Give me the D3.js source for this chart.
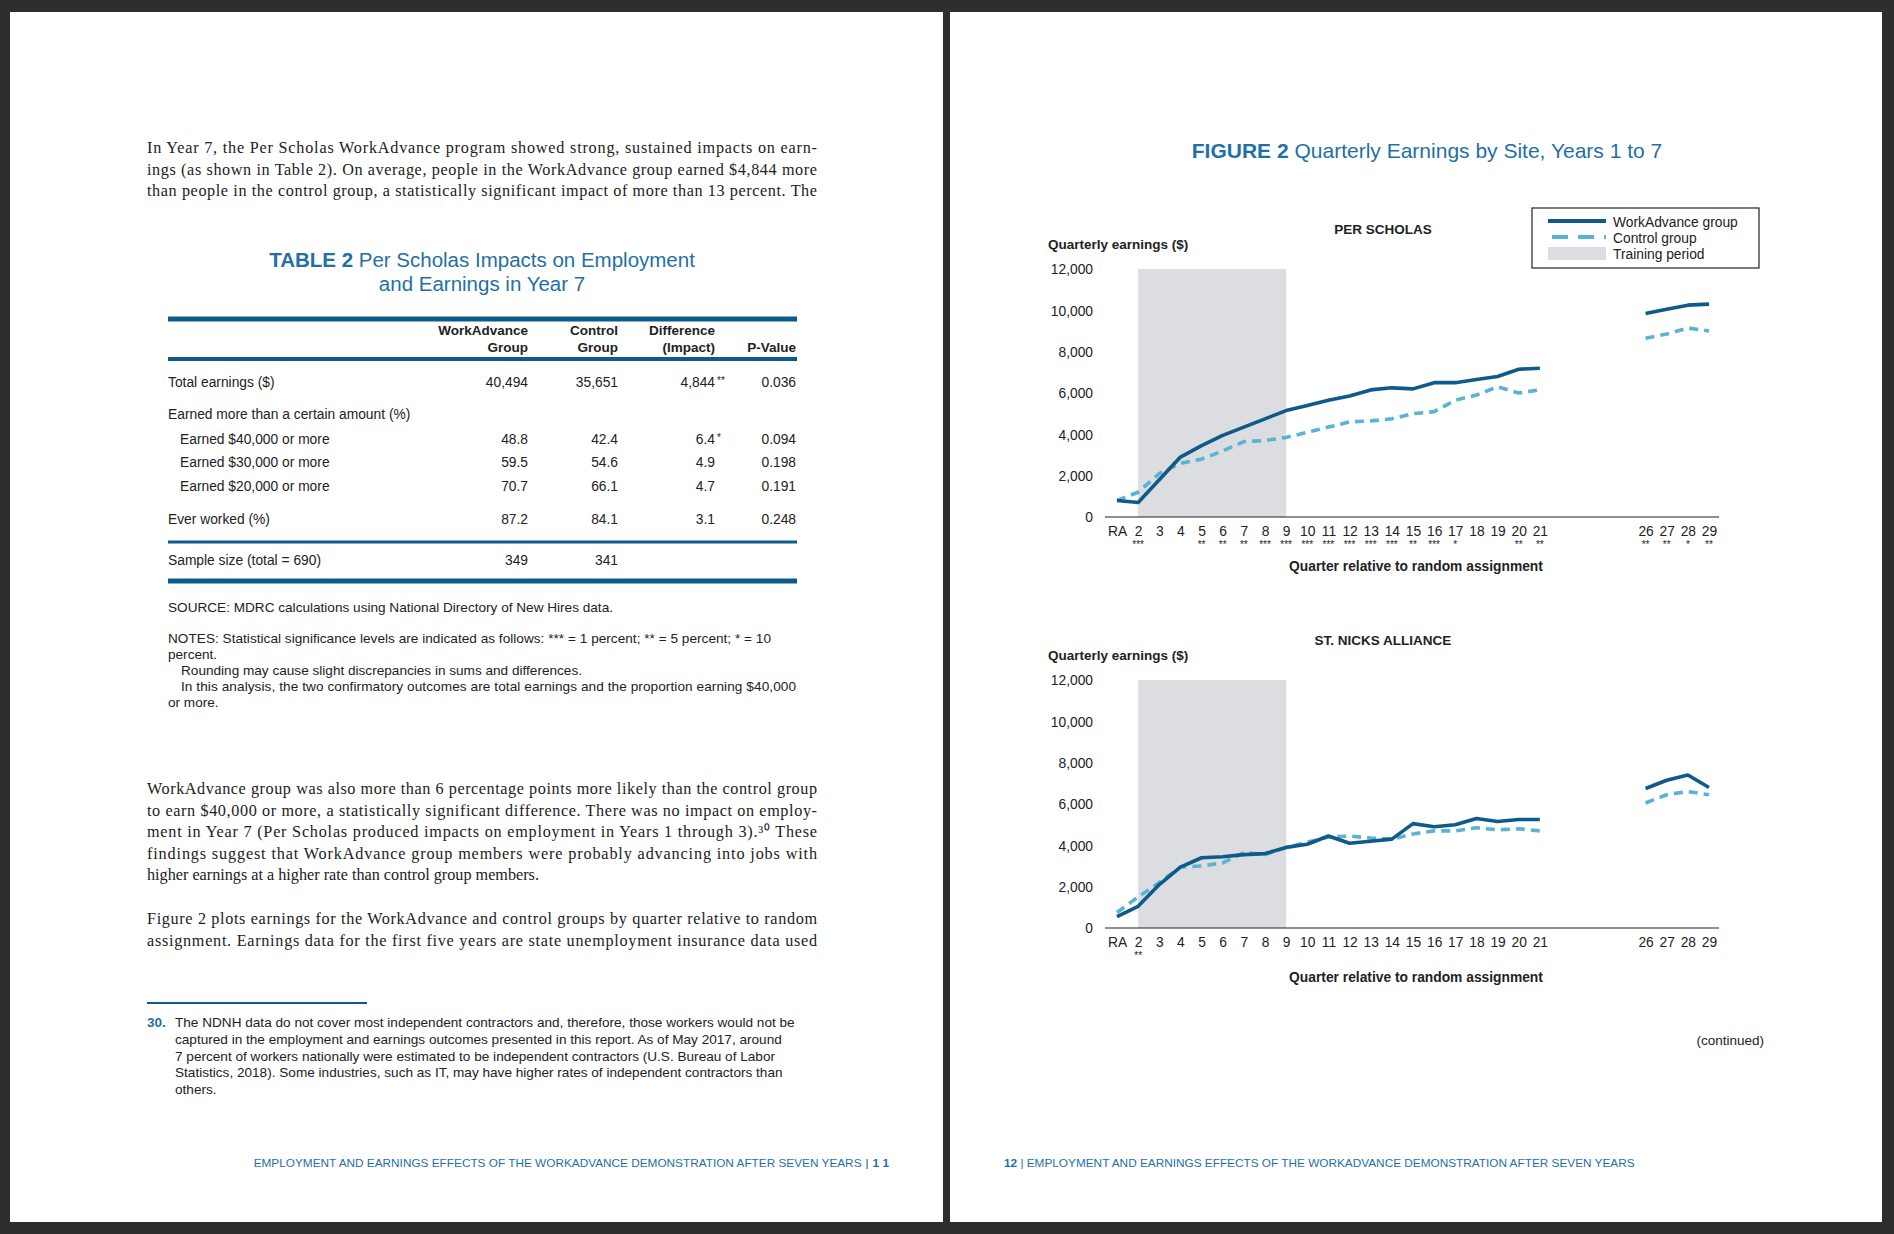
<!DOCTYPE html>
<html><head><meta charset="utf-8">
<script src="https://cdn.jsdelivr.net/npm/d3@7"></script>
<style>
body{margin:0;background:#2e2e2e;}
text{font-family:"Liberation Sans",Arial,sans-serif;}
.serif{font-family:"Liberation Serif","Times New Roman",serif;}
</style></head><body>
<svg id="page" width="1894" height="1234"></svg>
<script>
"use strict";

// ---- data ----
var quarters = [1,2,3,4,5,6,7,8,9,10,11,12,13,14,15,16,17,18,19,20,21,26,27,28,29];
var quarterLabels = ["RA","2","3","4","5","6","7","8","9","10","11","12","13","14","15","16","17","18","19","20","21","26","27","28","29"];
var perScholasWA = [800,700,1800,2900,3450,3950,4350,4750,5150,5400,5650,5850,6150,6250,6200,6500,6500,6650,6800,7150,7200,9850,10050,10250,10300];
var perScholasCtl = [800,1200,2100,2600,2800,3200,3650,3700,3850,4100,4350,4600,4650,4750,5000,5100,5650,5900,6300,6000,6150,8650,8850,9150,9000];
var perScholasStars = ["","***","","","**","**","**","***","***","***","***","***","***","***","**","***","*","","","**","**","**","**","*","**"];
var stNicksWA = [550,1050,2100,2950,3400,3450,3550,3600,3900,4050,4450,4100,4200,4300,5050,4900,5000,5300,5150,5250,5250,6750,7150,7400,6800];
var stNicksCtl = [750,1500,2200,2950,3000,3150,3650,3550,3900,4150,4400,4450,4350,4300,4550,4700,4700,4850,4750,4800,4700,6050,6450,6600,6450];
var stNicksStars = ["","**","","","","","","","","","","","","","","","","","","","","","","",""];
var yTicks = [0,2000,4000,6000,8000,10000,12000];
var trainingPeriod = [2,9];

var tableHeader = [["WorkAdvance","Group"],["Control","Group"],["Difference","(Impact)"],["","P-Value"]];
var tableRows = [
  ["Total earnings ($)","40,494","35,651","4,844","**","0.036",0],
  ["Earned more than a certain amount (%)","","","","","",0],
  ["Earned $40,000 or more","48.8","42.4","6.4","*","0.094",1],
  ["Earned $30,000 or more","59.5","54.6","4.9","","0.198",1],
  ["Earned $20,000 or more","70.7","66.1","4.7","","0.191",1],
  ["Ever worked (%)","87.2","84.1","3.1","","0.248",0],
  ["Sample size (total = 690)","349","341","","","",0]
];

var DARK = "#0e5a8a", LIGHT = "#5ab3d3", BAND = "#dcdde0", TITLE = "#1f6fa8";
var svg = d3.select("#page");

// pages
svg.append("rect").attr("x",10).attr("y",12).attr("width",933).attr("height",1210).attr("fill","#fff");
svg.append("rect").attr("x",950).attr("y",12).attr("width",932).attr("height",1210).attr("fill","#fff");

// lines: [text, width-or-0]
function textLines(lines, x, y0, dy, size, cls) {
    lines.forEach(function (t, i) {
        var s = Array.isArray(t) ? t : [t, 0];
        var el = svg.append("text").attr("class", cls || null).attr("x", x).attr("y", y0 + i*dy)
            .attr("font-size", size).attr("fill","#222").text(s[0]);
        if (s[1]) el.attr("textLength", s[1]).attr("lengthAdjust", "spacing");
    });
}

// ---- left page text ----
var W = 670;
textLines([["In Year 7, the Per Scholas WorkAdvance program showed strong, sustained impacts on earn-",W],
  ["ings (as shown in Table 2). On average, people in the WorkAdvance group earned $4,844 more",W],
  ["than people in the control group, a statistically significant impact of more than 13 percent. The",W]],
  147, 153, 21.7, 16.2, "serif");

var tt = svg.append("text").attr("x",482).attr("y",267).attr("text-anchor","middle").attr("font-size",20.5).attr("fill",TITLE);
tt.append("tspan").attr("font-weight","bold").text("TABLE 2 ");
tt.append("tspan").text(" Per Scholas Impacts on Employment");
svg.append("text").attr("x",482).attr("y",291).attr("text-anchor","middle").attr("font-size",20.5).attr("fill",TITLE).text("and Earnings in Year 7");

[[319,5],[359,4],[542,3],[581,5]].forEach(function (l) {
    svg.append("rect").attr("x",168).attr("y",l[0]-l[1]/2).attr("width",629).attr("height",l[1]).attr("fill",DARK);
});
var colX = [528,618,715,796];
tableHeader.forEach(function (h, i) {
    svg.append("text").attr("x",colX[i]).attr("y",335).attr("text-anchor","end").attr("font-size",13.5).attr("font-weight","bold").attr("fill","#222").text(h[0]);
    svg.append("text").attr("x",colX[i]).attr("y",352).attr("text-anchor","end").attr("font-size",13.5).attr("font-weight","bold").attr("fill","#222").text(h[1]);
});
var rowY = [387,419,444,467,491,524,565];
tableRows.forEach(function (r, i) {
    var y = rowY[i];
    svg.append("text").attr("x",168 + r[6]*12).attr("y",y).attr("font-size",13.8).attr("fill","#222").text(r[0]);
    [r[1],r[2],r[3],r[5]].forEach(function (v, j) {
        svg.append("text").attr("x",colX[j]).attr("y",y).attr("text-anchor","end").attr("font-size",13.8).attr("fill","#222").text(v);
    });
    if (r[4]) svg.append("text").attr("x",colX[2]+2).attr("y",y-3).attr("font-size",10).attr("fill","#222").text(r[4]);
});
textLines(["SOURCE: MDRC calculations using National Directory of New Hires data."],168,612,16,13.6);
textLines([["NOTES: Statistical significance levels are indicated as follows: *** = 1 percent; ** =  5 percent; * = 10",603],
  "percent."],168,643,16,13.6);
textLines(["Rounding may cause slight discrepancies in sums and differences.",
  ["In this analysis, the two confirmatory outcomes are total earnings and the proportion earning $40,000",615]],181,675,16,13.6);
textLines(["or more."],168,707,16,13.6);

textLines([["WorkAdvance group was also more than 6 percentage points more likely than the control group",W],
  ["to earn $40,000 or more, a statistically significant difference. There was no impact on employ-",W],
  ["ment in Year 7 (Per Scholas produced impacts on employment in Years 1 through 3).\u00b3\u2070 These",W],
  ["findings suggest that WorkAdvance group members were probably advancing into jobs with",W],
  "higher earnings at a higher rate than control group members."],147,794,21.5,16.2,"serif");
textLines([["Figure 2 plots earnings for the WorkAdvance and control groups by quarter relative to random",W],
  ["assignment. Earnings data for the first five years are state unemployment insurance data used",W]],147,924,21.5,16.2,"serif");

svg.append("line").attr("x1",147).attr("x2",367).attr("y1",1003).attr("y2",1003).attr("stroke",DARK).attr("stroke-width",2);
svg.append("text").attr("x",147).attr("y",1027).attr("font-size",13.5).attr("font-weight","bold").attr("fill",TITLE).text("30.");
textLines(["The NDNH data do not cover most independent contractors and, therefore, those workers would not be",
  "captured in the employment and earnings outcomes presented in this report. As of May 2017, around",
  "7 percent of workers nationally were estimated to be independent contractors (U.S. Bureau of Labor",
  "Statistics, 2018). Some industries, such as IT, may have higher rates of independent contractors than",
  "others."],175,1027,16.8,13.6);

var lf = svg.append("text").attr("x",889).attr("y",1167).attr("text-anchor","end").attr("font-size",11.8).attr("fill",TITLE);
lf.append("tspan").text("EMPLOYMENT AND EARNINGS EFFECTS OF THE WORKADVANCE DEMONSTRATION AFTER SEVEN YEARS");
lf.append("tspan").attr("dx",4).attr("fill",DARK).text("|");
lf.append("tspan").attr("dx",4).attr("font-weight","bold").text("1 1");
var rf = svg.append("text").attr("x",1004).attr("y",1167).attr("font-size",11.8).attr("fill",TITLE);
rf.append("tspan").attr("font-weight","bold").text("12");
rf.append("tspan").text(" | EMPLOYMENT AND EARNINGS EFFECTS OF THE WORKADVANCE DEMONSTRATION AFTER SEVEN YEARS");

// ---- figure ----
var ft = svg.append("text").attr("x",1427).attr("y",158).attr("text-anchor","middle").attr("font-size",21).attr("fill",TITLE);
ft.append("tspan").attr("font-weight","bold").text("FIGURE 2 ");
ft.append("tspan").text(" Quarterly Earnings by Site, Years 1 to 7");

var x = d3.scaleLinear().domain([1,29]).range([1117,1709]);

function drawPanel(title, top, wa, ctl, stars) {
    var y = d3.scaleLinear().domain([0,12000]).range([top+248, top]);
    var g = svg.append("g");
    g.append("rect").attr("x",x(trainingPeriod[0])).attr("y",y(12000))
        .attr("width",x(trainingPeriod[1])-x(trainingPeriod[0])).attr("height",y(0)-y(12000)).attr("fill",BAND);
    g.append("text").attr("x",1383).attr("y",top-35).attr("text-anchor","middle").attr("font-size",13.5).attr("font-weight","bold").attr("fill","#222").text(title);
    g.append("text").attr("x",1048).attr("y",top-20).attr("font-size",13.5).attr("font-weight","bold").attr("fill","#222").text("Quarterly earnings ($)");
    var ya = g.append("g").attr("transform","translate(1096,0)")
        .call(d3.axisLeft(y).tickValues(yTicks).tickSize(0).tickFormat(d3.format(",")));
    ya.select(".domain").remove();
    ya.selectAll("text").attr("font-size",13.8).attr("fill","#222").attr("font-family","Liberation Sans,Arial,sans-serif").attr("dy","0.35em");
    g.append("line").attr("x1",1105).attr("x2",1719).attr("y1",y(0)).attr("y2",y(0)).attr("stroke","#222").attr("stroke-width",1.2);
    var xa = g.append("g").attr("transform","translate(0," + y(0) + ")")
        .call(d3.axisBottom(x).tickValues(quarters).tickSize(0).tickPadding(9).tickFormat(function (d, i) { return quarterLabels[i]; }));
    xa.select(".domain").remove();
    xa.selectAll("text").attr("font-size",13.8).attr("fill","#222").attr("font-family","Liberation Sans,Arial,sans-serif");
    quarters.forEach(function (q, i) {
        if (stars[i]) g.append("text").attr("x",x(q)).attr("y",y(0)+31).attr("text-anchor","middle").attr("font-size",10).attr("fill","#222").text(stars[i]);
    });
    g.append("text").attr("x",1416).attr("y",y(0)+54).attr("text-anchor","middle").attr("font-size",13.8).attr("font-weight","bold").attr("fill","#222").text("Quarter relative to random assignment");

    var line = d3.line().x(function (d) { return x(d.q); }).y(function (d) { return y(d.v); });
    [[ctl, LIGHT, "9,6"], [wa, DARK, null]].forEach(function (s) {
        var pts = quarters.map(function (q, i) { return {q: q, v: s[0][i]}; });
        [pts.filter(function (d) { return d.q <= 21; }), pts.filter(function (d) { return d.q >= 26; })].forEach(function (seg) {
            g.append("path").datum(seg).attr("d", line).attr("fill","none").attr("stroke",s[1])
                .attr("stroke-width",3.6).attr("stroke-dasharray",s[2]).attr("stroke-linejoin","round");
        });
    });
}
drawPanel("PER SCHOLAS", 269, perScholasWA, perScholasCtl, perScholasStars);
drawPanel("ST. NICKS ALLIANCE", 680, stNicksWA, stNicksCtl, stNicksStars);

// legend
var lg = svg.append("g");
lg.append("rect").attr("x",1532).attr("y",208).attr("width",227).attr("height",60).attr("fill","#fff").attr("stroke","#222").attr("stroke-width",1.2);
lg.append("line").attr("x1",1548).attr("x2",1606).attr("y1",221).attr("y2",221).attr("stroke",DARK).attr("stroke-width",4);
lg.append("line").attr("x1",1552).attr("x2",1606).attr("y1",237).attr("y2",237).attr("stroke",LIGHT).attr("stroke-width",4).attr("stroke-dasharray","16,10");
lg.append("rect").attr("x",1548).attr("y",247).attr("width",58).attr("height",13).attr("fill",BAND);
["WorkAdvance group","Control group","Training period"].forEach(function (t, i) {
    lg.append("text").attr("x",1613).attr("y",227 + i*16).attr("font-size",13.8).attr("fill","#222").text(t);
});
svg.append("text").attr("x",1764).attr("y",1045).attr("text-anchor","end").attr("font-size",13.5).attr("fill","#222").text("(continued)");
</script></body></html>
